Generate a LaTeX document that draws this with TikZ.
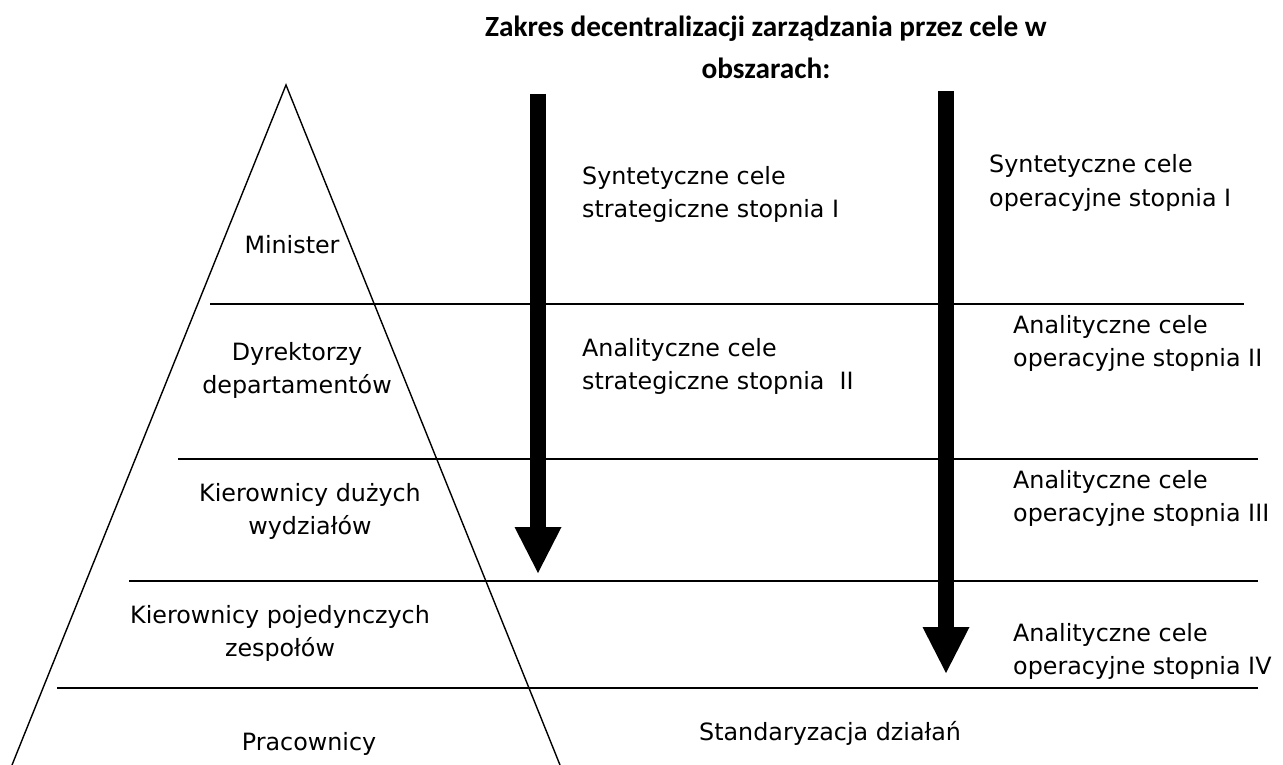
\documentclass[tikz,border=0pt]{standalone}
\usepackage{fontspec}
\setmainfont{DejaVu Sans}
\newfontfamily\titlefont{Carlito}
\usetikzlibrary{arrows.meta}

% multi-line nodes are placed by the baseline of their last line
\tikzset{
  lbl/.style={inner sep=0pt, font=\fontsize{23.8}{33}\selectfont},
  lvl/.style={lbl, anchor=base, align=center},
  goal/.style={lbl, anchor=base west, align=left},
  ttl/.style={inner sep=0pt, anchor=base, align=center,
              font=\titlefont\bfseries\fontsize{29.3}{42}\selectfont},
  side/.style={line width=1.4pt},
  divider/.style={line width=2pt},
  bigarrow/.style={line width=16pt,
    -{Triangle[width=47pt,length=46pt,line width=0pt 0]}}
}

\begin{document}
\begin{tikzpicture}[x=1pt,y=-1pt]
\useasboundingbox (0,0) rectangle (1283,765);

% title
\node[ttl] (title) at (766,79) {Zakres decentralizacji zarządzania przez cele w\\obszarach:};

% pyramid sides
\coordinate (apex) at (286,85);
\coordinate (baseL) at (12,765);
\coordinate (baseR) at (560,765);
\draw[side] (baseL) -- (apex) -- (baseR);

% level dividers
\coordinate (d1a) at (210,304);  \coordinate (d1b) at (1244,304);
\coordinate (d2a) at (178,459);  \coordinate (d2b) at (1258,459);
\coordinate (d3a) at (129,581);  \coordinate (d3b) at (1258,581);
\coordinate (d4a) at (57,688);   \coordinate (d4b) at (1258,688);
\draw[divider] (d1a) -- (d1b);
\draw[divider] (d2a) -- (d2b);
\draw[divider] (d3a) -- (d3b);
\draw[divider] (d4a) -- (d4b);

% decentralisation arrows
\coordinate (s1) at (538,94);  \coordinate (e1) at (538,573);
\coordinate (s2) at (946,91);  \coordinate (e2) at (946,673);
\draw[bigarrow] (s1) -- (e1);
\draw[bigarrow] (s2) -- (e2);

% management levels
\node[lvl] (min) at (292,253) {Minister};
\node[lvl] (dyr) at (297,393) {Dyrektorzy\\departamentów};
\node[lvl] (kdw) at (310,534) {Kierownicy dużych\\wydziałów};
\node[lvl] (kpz) at (280,656) {Kierownicy pojedynczych\\zespołów};
\node[lvl] (prc) at (309,750) {Pracownicy};

% strategic goals
\node[goal] (st1) at (582,218) {Syntetyczne cele\\strategiczne stopnia I};
\node[goal] (st2) at (582,389) {Analityczne cele\\strategiczne stopnia\ \ II};

% operational goals
\node[goal] (op1) at (989,206) {Syntetyczne cele\\operacyjne stopnia I};
\node[goal] (op2) at (1013,366) {Analityczne cele\\operacyjne stopnia II};
\node[goal] (op3) at (1013,521) {Analityczne cele\\operacyjne stopnia III};
\node[goal] (op4) at (1013,674) {Analityczne cele\\operacyjne stopnia IV};

\node[goal] (std) at (699,740) {Standaryzacja działań};
\end{tikzpicture}
\end{document}
